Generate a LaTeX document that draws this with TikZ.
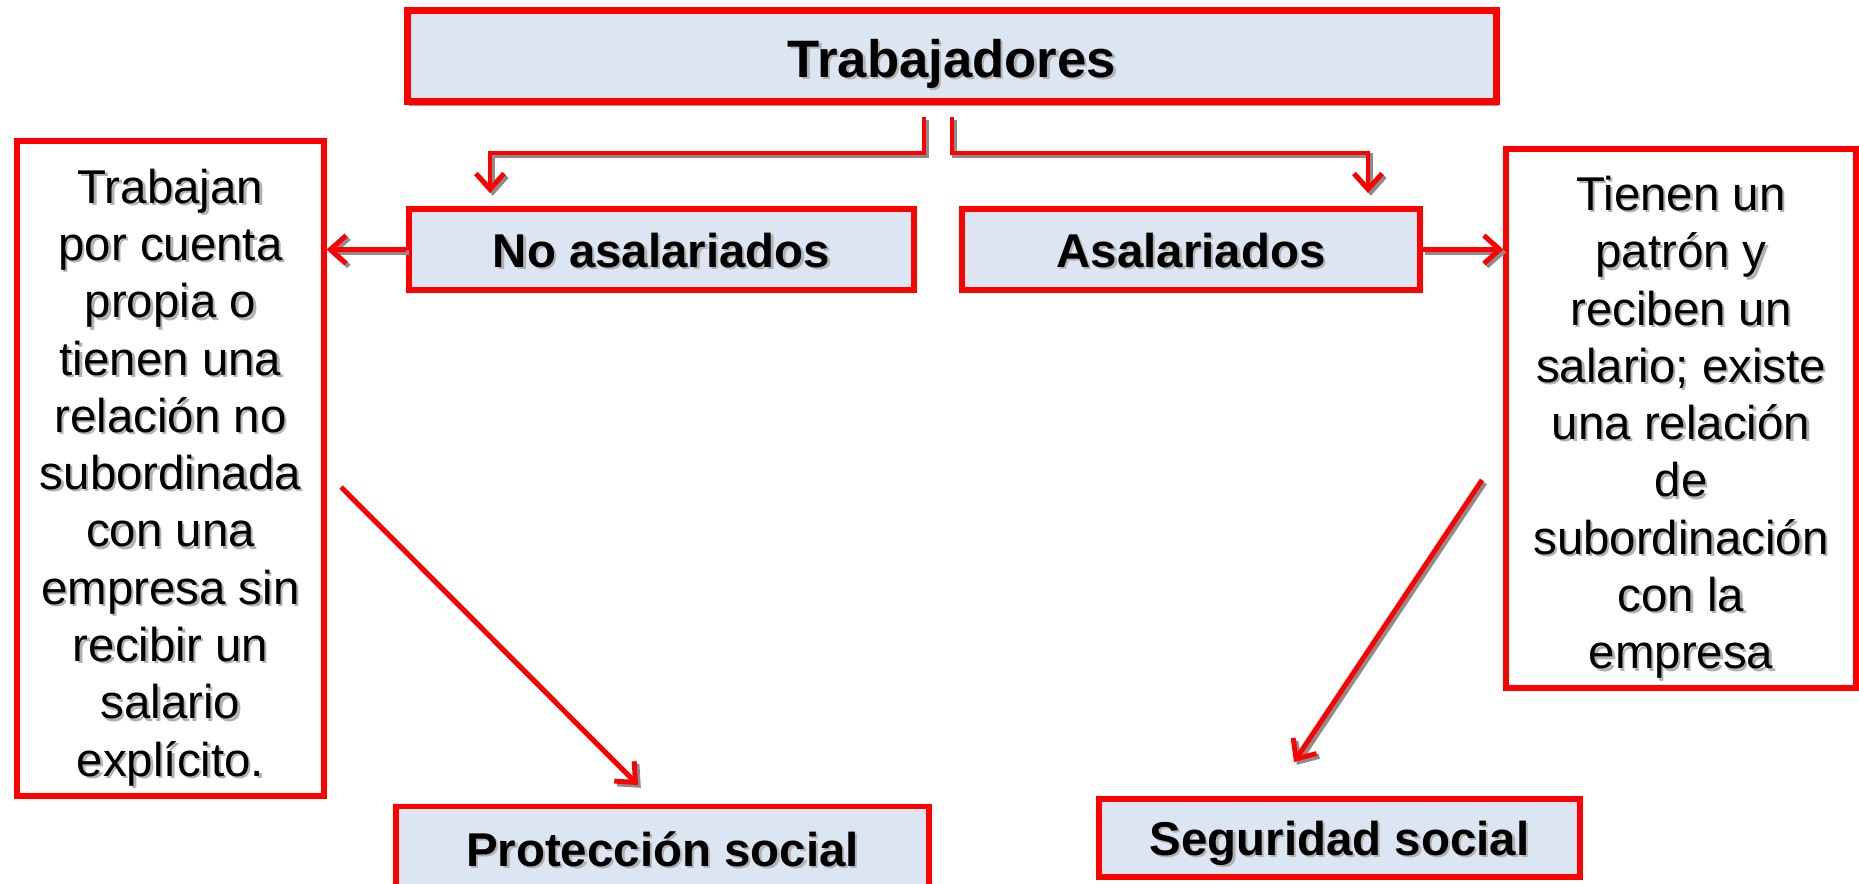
\documentclass[tikz,border=0pt]{standalone}
\usepackage{fontspec}
\setmainfont{Liberation Sans}
\usetikzlibrary{arrows.meta,shadows}
\definecolor{boxblue}{HTML}{DCE6F2}
% text with a light shadow, one line at a time
\newcommand{\shtxt}[1]{\leavevmode\rlap{\kern1.3pt\raisebox{-1.3pt}{\textcolor{black!30}{#1}}}#1}

\begin{document}
\begin{tikzpicture}[x=0.02cm,y=-0.02cm,>={Straight Barb[length=9pt,width=16pt]},
  every node/.style={font=\fontsize{27}{33}\selectfont},
  catbox/.style={draw=red, line width=3.2pt, fill=boxblue, text height=25pt, text depth=5pt,
    font=\fontsize{27}{33}\selectfont\bfseries},
  textbox/.style={draw=red, line width=3pt, fill=white, align=center, inner ysep=0pt,
    font=\fontsize{27}{32.6}\selectfont},
  shade/.style={draw=black!45, line width=2.8pt, ->, line join=miter},
  link/.style={draw=red, line width=2.8pt, ->, line join=miter}]
                \useasboundingbox (0,0) rectangle (1859,883);

                % Main box
                \node[catbox, line width=4.2pt, minimum width=21.78cm, minimum height=1.82cm,
                  text height=28pt, text depth=4pt, font=\fontsize{30}{36}\selectfont\bfseries,
                  drop shadow={shadow xshift=1pt, shadow yshift=-2.5pt, fill=black!40, opacity=1}]
                  (trab) at (952,56) {\shtxt{Trabajadores}};

                % Second level
                \node[catbox, minimum width=10.1cm, minimum height=1.62cm] (noasal) at (661.5,249.5) {\shtxt{No asalariados}};
                \node[catbox, minimum width=9.15cm, minimum height=1.62cm] (asal) at (1191,249.5) {\shtxt{Asalariados}};

                % Descriptions
                \node[textbox, minimum width=6.14cm, minimum height=13.1cm] (izq) at (170.5,468.5)
                  {\rule{0pt}{31pt}\shtxt{Trabajan}\\ \shtxt{por cuenta}\\ \shtxt{propia o}\\ \shtxt{tienen una}\\
                   \shtxt{relación no}\\ \shtxt{subordinada}\\ \shtxt{con una}\\ \shtxt{empresa sin}\\
                   \shtxt{recibir un}\\ \shtxt{salario}\\ \shtxt{explícito.}};
                \node[textbox, minimum width=7.0cm, minimum height=10.78cm] (der) at (1681,418.5)
                  {\rule{0pt}{31pt}\shtxt{Tienen un}\\ \shtxt{patrón y}\\ \shtxt{reciben un}\\ \shtxt{salario; existe}\\
                   \shtxt{una relación}\\ \shtxt{de}\\ \shtxt{subordinación}\\ \shtxt{con la}\\ \shtxt{empresa}};

                % Bottom level
                \node[catbox, minimum width=10.66cm, minimum height=1.7cm] (prot) at (662.5,849) {\shtxt{Protección social}};
                \node[catbox, minimum width=9.62cm, minimum height=1.56cm] (seg) at (1339.5,838) {\shtxt{Seguridad social}};

                % Free ends of the connectors
                \coordinate (tl) at (924,117);
                \coordinate (tr) at (952,117);
                \coordinate (la) at (490,193);
                \coordinate (ra) at (1368,193);
                \coordinate (d1) at (341,487);
                \coordinate (d1e) at (638,785);
                \coordinate (d2) at (1482,480);
                \coordinate (d2e) at (1294,762);

                % Shadows of the connectors
                \begin{scope}[transform canvas={shift={(1.6pt,-1.6pt)}}]
                \draw[shade] (tl) -- ++(0,36) -| (la);
                \draw[shade] (tr) -- ++(0,36) -| (ra);
                \draw[shade] (noasal.west) -- (noasal.west -| izq.east);
                \draw[shade] (asal.east) -- (asal.east -| der.west);
                \draw[shade] (d1) -- (d1e);
                \draw[shade] (d2) -- (d2e);
                \end{scope}

                % Connectors
                \draw[link] (tl) -- ++(0,36) -| (la);
                \draw[link] (tr) -- ++(0,36) -| (ra);
                \draw[link] (noasal.west) -- (noasal.west -| izq.east);
                \draw[link] (asal.east) -- (asal.east -| der.west);
                \draw[link] (d1) -- (d1e);
                \draw[link] (d2) -- (d2e);
            \end{tikzpicture}
\end{document}
